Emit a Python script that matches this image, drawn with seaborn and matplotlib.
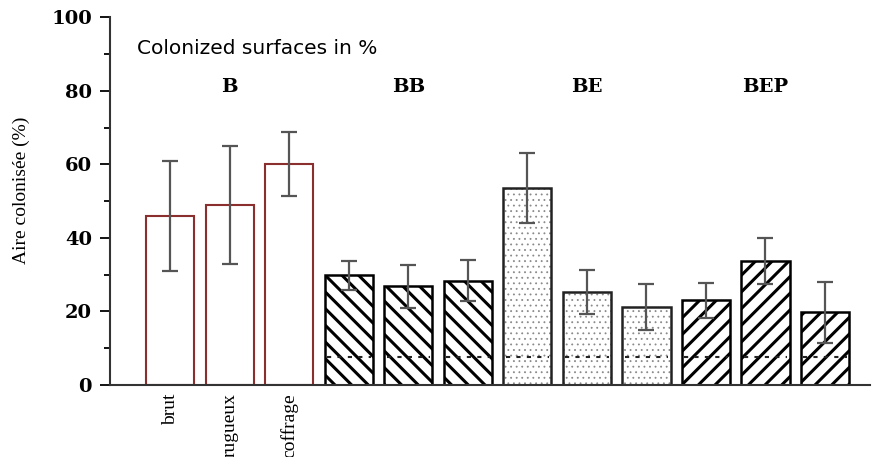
import numpy as np
import pandas as pd
import seaborn as sns
from matplotlib import pyplot as plt
from matplotlib.colors import to_rgba
from matplotlib.ticker import MultipleLocator

# valeurs (aire colonisée en %)
bar_ids = ['B1', 'B2', 'B3', 'BB1', 'BB2', 'BB3', 'BE1', 'BE2', 'BE3', 'BEP1', 'BEP2', 'BEP3']
groups = ['B', 'B', 'B', 'BB', 'BB', 'BB', 'BE', 'BE', 'BE', 'BEP', 'BEP', 'BEP']
values = [46.0, 49.0, 60.2, 29.8, 26.8, 28.4, 53.6, 25.4, 21.2, 23.0, 33.8, 19.8]
errors = [15.0, 16.0, 8.7, 3.9, 5.8, 5.6, 9.5, 6.0, 6.3, 4.8, 6.3, 8.3]
tick_labels = ['brut', 'rugueux', 'coffrage', '', '', '', '', '', '', '', '', '']
group_names = ['B', 'BB', 'BE', 'BEP']
inner_line = 7.7

df = pd.DataFrame({'bar': bar_ids, 'group': groups, 'value': values, 'err': errors})

plt.rcParams['hatch.linewidth'] = 2.2
fig = plt.figure(figsize=(8.88, 4.57), dpi=100)
ax = fig.add_axes([0.124, 0.1575, 0.856, 0.805])

sns.barplot(data=df, x='bar', y='value', color='white', width=0.81,
            edgecolor='black', linewidth=1.8, ax=ax)

# motifs des barres selon le groupe
styles = {'B': ('', '#8b2e2e', 'black'),
          'BB': ('\\\\', 'black', 'black'),
          'BE': ('...', '#222222', '#8a8a8a'),
          'BEP': ('//', 'black', 'black')}
for patch, g in zip(ax.patches, df['group']):
    hatch, edge, hcol = styles[g]
    patch.set_hatch(hatch)
    patch.set_edgecolor(edge)
    patch.set_facecolor('white')
    patch._hatch_color = to_rgba(hcol)
    if g == 'BE' and hasattr(patch, 'set_hatch_linewidth'):
        patch.set_hatch_linewidth(0.6)
    if g == 'B':
        patch.set_linewidth(1.5)
    else:
        x0 = patch.get_x()
        ax.hlines(inner_line, x0 + 0.04, x0 + patch.get_width() - 0.04,
                  colors='#222222', linestyles=(0, (2, 3)), linewidth=1.5, zorder=3)

ax.errorbar(np.arange(len(values)), values, yerr=errors, fmt='none',
            ecolor='#555555', elinewidth=1.6, capsize=6, capthick=1.6, zorder=4)

# étiquettes des groupes
for i, name in enumerate(group_names):
    ax.text(3 * i + 1, 81, name, ha='center', va='center',
            family='DejaVu Serif', fontweight='bold', fontsize=14)

ax.text(0.035, 0.915, 'Colonized surfaces in %', transform=ax.transAxes,
        family='DejaVu Sans', fontsize=14.5, ha='left', va='center')

ax.set_ylim(0, 100)
ax.set_xlim(-1.01, 11.76)
ax.yaxis.set_major_locator(MultipleLocator(20))
ax.yaxis.set_minor_locator(MultipleLocator(10))
ax.tick_params(axis='y', which='major', length=7, width=1.3, direction='out', pad=6)
ax.tick_params(axis='y', which='minor', length=4, width=1.3, direction='out')
ax.tick_params(axis='x', length=0, pad=6)
for lab in ax.get_yticklabels():
    lab.set_family('DejaVu Serif')
    lab.set_fontweight('bold')
    lab.set_fontsize(14)

ax.set_xticks(range(len(tick_labels)))
ax.set_xticklabels(tick_labels, rotation=90, va='top', ha='center',
                   family='Liberation Serif', fontsize=14)

ax.set_xlabel('')
ax.set_ylabel('Aire colonisée (%)', family='Liberation Serif', fontsize=14)
ax.yaxis.set_label_coords(-0.105, 0.53)

sns.despine(ax=ax)
for s in ['left', 'bottom']:
    ax.spines[s].set_linewidth(1.5)
    ax.spines[s].set_color('#333333')

plt.savefig('out.png', dpi=100)
